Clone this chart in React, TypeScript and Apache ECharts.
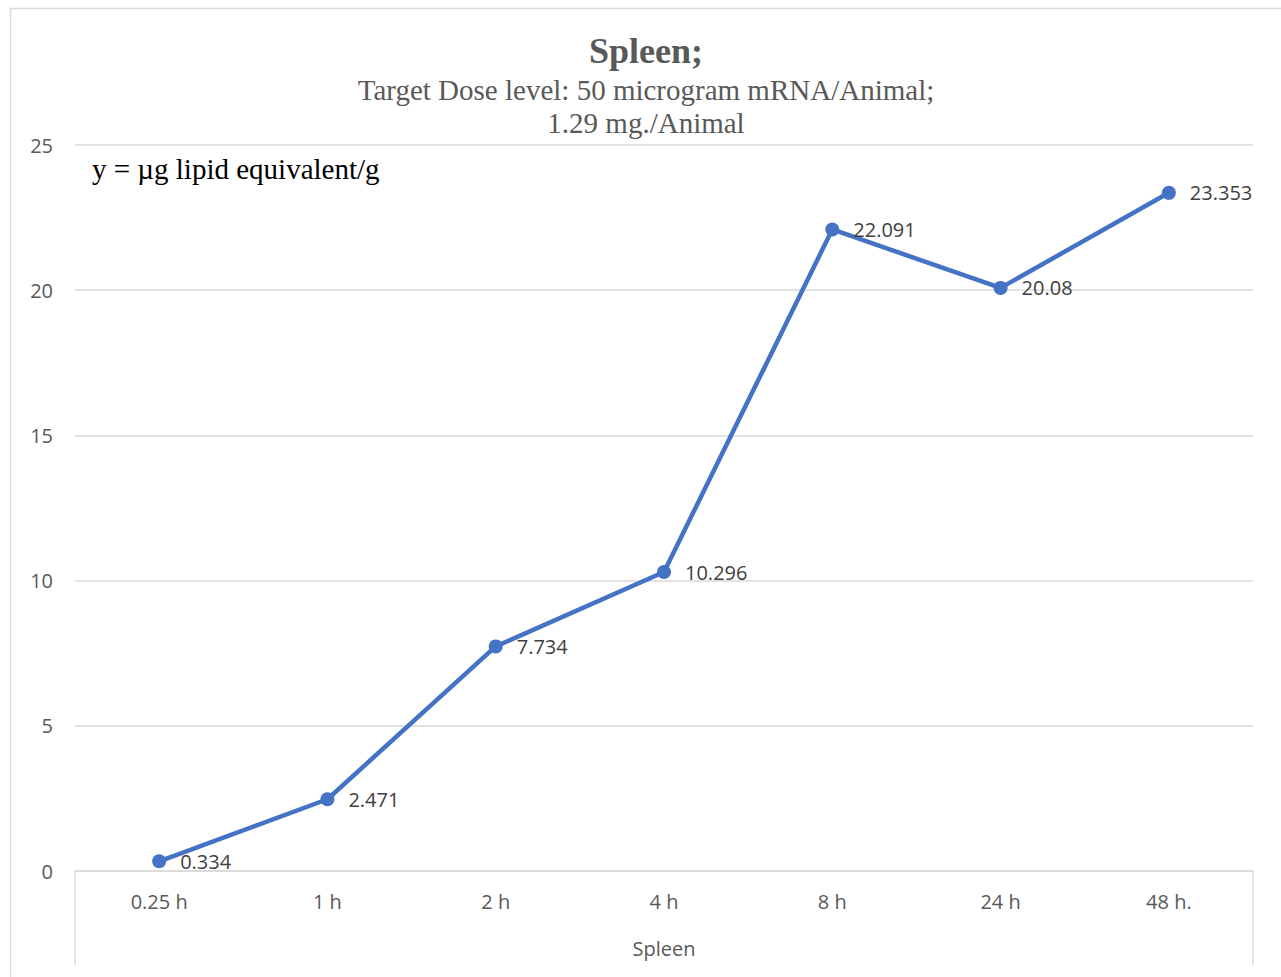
import React, { useEffect, useRef } from "react";
import * as echarts from "echarts";

const categories = ["0.25 h", "1 h", "2 h", "4 h", "8 h", "24 h", "48 h."];
const values = [0.334, 2.471, 7.734, 10.296, 22.091, 20.08, 23.353];
const yTicks = { min: 0, max: 25, interval: 5 };
const titleText = "Spleen;";
const subtitleLines = ["Target Dose level: 50 microgram mRNA/Animal;", "1.29 mg./Animal"];
const noteText = "y = \u00b5g lipid equivalent/g";
const xAxisName = "Spleen";

const W = 1281;
const H = 977;
const GL = 75;
const GR = 1253;
const GT = 145;
const GB = 871;
const TITLE_CX = 646;

export default function App() {
  const ref = useRef<HTMLDivElement>(null);
  useEffect(() => {
    if (!ref.current) return;
    const chart = echarts.init(ref.current, null, { renderer: "svg" });
    const sans = "'Open Sans', 'Noto Sans', sans-serif";
    const serif = "'Liberation Serif', 'DejaVu Serif', serif";
    chart.setOption({
      animation: false,
      backgroundColor: "#ffffff",
      grid: { left: GL, right: W - GR, top: GT, bottom: H - GB, containLabel: false },
      xAxis: {
        type: "category",
        data: categories,
        boundaryGap: true,
        name: xAxisName,
        nameLocation: "middle",
        nameGap: 67,
        nameTextStyle: { fontFamily: sans, fontSize: 20, color: "#595959" },
        axisLine: { show: true, lineStyle: { color: "#D9D9D9", width: 1.5 } },
        axisTick: { show: false },
        axisLabel: { fontFamily: sans, fontSize: 20, color: "#595959", margin: 20 },
        splitLine: { show: false },
      },
      yAxis: {
        type: "value",
        min: yTicks.min,
        max: yTicks.max,
        interval: yTicks.interval,
        axisLine: { show: false },
        axisTick: { show: false },
        axisLabel: { fontFamily: sans, fontSize: 20, color: "#595959", margin: 22 },
        splitLine: { lineStyle: { color: "#D9D9D9", width: 1.5 } },
      },
      graphic: [
        {
          type: "rect",
          shape: { x: 10.5, y: 8.5, width: 1400, height: 1100 },
          style: { fill: "none", stroke: "#D9D9D9", lineWidth: 1.5 },
          silent: true,
        },
        {
          type: "line",
          shape: { x1: GL, y1: GB, x2: GL, y2: 965 },
          style: { stroke: "#D9D9D9", lineWidth: 1.5 },
        },
        {
          type: "line",
          shape: { x1: GR, y1: GB, x2: GR, y2: 965 },
          style: { stroke: "#D9D9D9", lineWidth: 1.5 },
        },
        {
          type: "text",
          x: TITLE_CX,
          y: 51,
          style: {
            text: titleText,
            fontFamily: serif,
            fontWeight: "bold",
            fontSize: 36,
            fill: "#595959",
            textAlign: "center",
            textVerticalAlign: "middle",
          },
        },
        ...subtitleLines.map((t, i) => ({
          type: "text",
          x: TITLE_CX,
          y: 90 + i * 33,
          style: {
            text: t,
            fontFamily: serif,
            fontSize: 29,
            fill: "#595959",
            textAlign: "center",
            textVerticalAlign: "middle",
          },
        })),
        {
          type: "text",
          left: 92,
          top: 154,
          style: { text: noteText, fontFamily: serif, fontSize: 29, fill: "#000000" },
        },
      ],
      series: [
        {
          type: "line",
          data: values,
          symbol: "circle",
          symbolSize: 14,
          lineStyle: { color: "#4472C4", width: 4.5 },
          itemStyle: { color: "#4472C4" },
          label: {
            show: true,
            position: "right",
            distance: 14,
            fontFamily: sans,
            fontSize: 20,
            color: "#404040",
          },
        },
      ],
    });
    return () => chart.dispose();
  }, []);
  return (
    <div
      ref={ref}
      style={{ position: "fixed", left: 0, top: 0, width: W, height: H }}
    />
  );
}
